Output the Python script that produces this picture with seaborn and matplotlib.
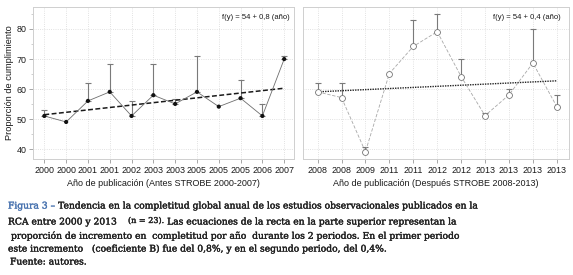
import numpy as np
import seaborn as sns
import matplotlib.pyplot as plt
import matplotlib.patheffects as pe
from matplotlib.ticker import MultipleLocator

# before STROBE (2000-2007)
years_pre = ["2000", "2000", "2001", "2001", "2002", "2003", "2003", "2005",
             "2005", "2005", "2006", "2007"]
vals_pre = [51.1, 49.1, 56.1, 59.1, 51.1, 58.0, 55.1, 59.1, 54.2, 57.0, 51.1, 70.0]
upper_pre = [53.1, None, 62.0, 68.2, 56.0, 68.2, 56.9, 70.9, None, 63.1, 55.0, 70.9]

# after STROBE (2008-2013)
years_post = ["2008", "2008", "2009", "2011", "2011", "2012", "2012", "2013",
              "2013", "2013", "2013"]
vals_post = [59.1, 57.2, 39.2, 65.2, 74.2, 79.1, 64.2, 51.2, 58.1, 68.7, 54.2]
upper_post = [62.0, 62.0, 40.9, None, 83.1, 85.1, 70.0, 52.0, 60.0, 80.0, 58.0]

eq_pre = "f(y) = 54 + 0,8 (año)"
eq_post = "f(y) = 54 + 0,4 (año)"

sns.set_theme(style="white")
plt.rcParams["font.family"] = ["Liberation Sans", "DejaVu Sans"]

fig = plt.figure(figsize=(5.73, 2.75), dpi=100)
ax1 = fig.add_axes([33 / 573, 1 - 159 / 275, 261 / 573, 152 / 275])
ax2 = fig.add_axes([303 / 573, 1 - 159 / 275, 266 / 573, 152 / 275])

TICK_FS = 6.4
LAB_FS = 6.5


def draw_errs(ax, x, upper, vals):
    xs = [i for i, u in zip(x, upper) if u is not None]
    lo = [vals[i] for i in xs]
    hi = [upper[i] for i in xs]
    err = np.array([np.zeros(len(xs)), np.array(hi) - np.array(lo)])
    ax.errorbar(xs, lo, yerr=err, fmt="none", ecolor="#7a7a7a",
                elinewidth=0.8, capsize=2.4, capthick=0.8, zorder=2)


def style_axes(ax, labels, xlabel):
    ax.set_ylim(36.8, 87.3)
    ax.set_xticks(range(len(labels)))
    ax.set_xticklabels(labels, fontsize=TICK_FS)
    ax.yaxis.set_major_locator(MultipleLocator(10))
    ax.yaxis.set_minor_locator(MultipleLocator(5))
    ax.grid(True, which="major", color="#d8d8d8", linestyle=":", linewidth=0.6)
    for s in ax.spines.values():
        s.set_color("#cfcfcf")
        s.set_linewidth(0.7)
    ax.tick_params(axis="x", bottom=True, length=3, width=0.6, color="#999999",
                   pad=2, labelsize=TICK_FS, labelcolor="#1a1a1a")
    ax.tick_params(axis="y", which="major", left=True, length=3, width=0.6,
                   color="#999999", pad=1.5, labelsize=TICK_FS, labelcolor="#1a1a1a")
    ax.tick_params(axis="y", which="minor", left=True, length=1.8, width=0.5,
                   color="#bbbbbb")
    ax.set_xlabel(xlabel, fontsize=LAB_FS, color="#1a1a1a", labelpad=3)


# left panel
x_pre = np.arange(len(vals_pre))
draw_errs(ax1, x_pre, upper_pre, vals_pre)
sns.lineplot(x=x_pre, y=vals_pre, ax=ax1, color="#6e6e6e", linewidth=0.6, zorder=3)
sns.scatterplot(x=x_pre, y=vals_pre, ax=ax1, color="#111111", s=9,
                edgecolor="none", zorder=4)
sns.regplot(x=x_pre, y=vals_pre, ax=ax1, scatter=False, ci=None,
            line_kws=dict(color="#1a1a1a", linewidth=1.1, linestyle=(0, (3.2, 1.6))))
ax1.set_xlim(-0.52, 11.45)
style_axes(ax1, years_pre, "Año de publicación (Antes STROBE 2000-2007)")
ax1.set_ylabel("Proporción de cumplimiento", fontsize=6.7, color="#1a1a1a", labelpad=2)
ax1.text(0.985, 0.93, eq_pre, transform=ax1.transAxes, ha="right", va="center",
         fontsize=5.5, color="#1a1a1a")

# right panel
x_post = np.arange(len(vals_post))
draw_errs(ax2, x_post, upper_post, vals_post)
sns.lineplot(x=x_post, y=vals_post, ax=ax2, color="#a8a8a8", linewidth=0.6,
             linestyle=(0, (4, 2)), zorder=3)
sns.scatterplot(x=x_post, y=vals_post, ax=ax2, s=18, color="white",
                edgecolor="#777777", linewidth=0.6, zorder=4)
sns.regplot(x=x_post, y=vals_post, ax=ax2, scatter=False, ci=None,
            line_kws=dict(color="#222222", linewidth=1.0, linestyle=(0, (1, 0.8))))
ax2.set_xlim(-0.61, 10.51)
style_axes(ax2, years_post, "Año de publicación (Después STROBE 2008-2013)")
ax2.set_ylabel("")
ax2.tick_params(axis="y", which="both", left=False, labelleft=False)
ax2.text(0.97, 0.93, eq_post, transform=ax2.transAxes, ha="right", va="center",
         fontsize=5.5, color="#1a1a1a")

# caption
CAP_FS = 6.6
serif = ["DejaVu Serif"]
cap_col = "#1f1f1f"
blue = "#4a74b0"


def cap(x, y, s, size=CAP_FS, color=cap_col):
    return fig.text(x / 573, 1 - y / 275, s, family=serif, fontsize=size,
                    color=color, va="center",
                    path_effects=[pe.withStroke(linewidth=0.25, foreground=color)])


def right_px(t):
    fig.canvas.draw()
    return t.get_window_extent().x1


t = cap(8, 206, "Figura 3 – ", color=blue)
cap(right_px(t), 206,
    "Tendencia en la completitud global anual de los estudios observacionales publicados en la")
cap(8, 222, "RCA entre 2000 y 2013")
t = cap(128, 221, "(n = 23).", size=5.8)
cap(right_px(t) + 3, 222, "Las ecuaciones de la recta en la parte superior representan la")
cap(11, 236, "proporción de incremento en  completitud por año  durante los 2 periodos. En el primer periodo")
cap(8, 249, "este incremento   (coeficiente B) fue del 0,8%, y en el segundo periodo, del 0,4%.")
cap(10, 262, "Fuente: autores.")

fig.savefig("out.png", dpi=100)
